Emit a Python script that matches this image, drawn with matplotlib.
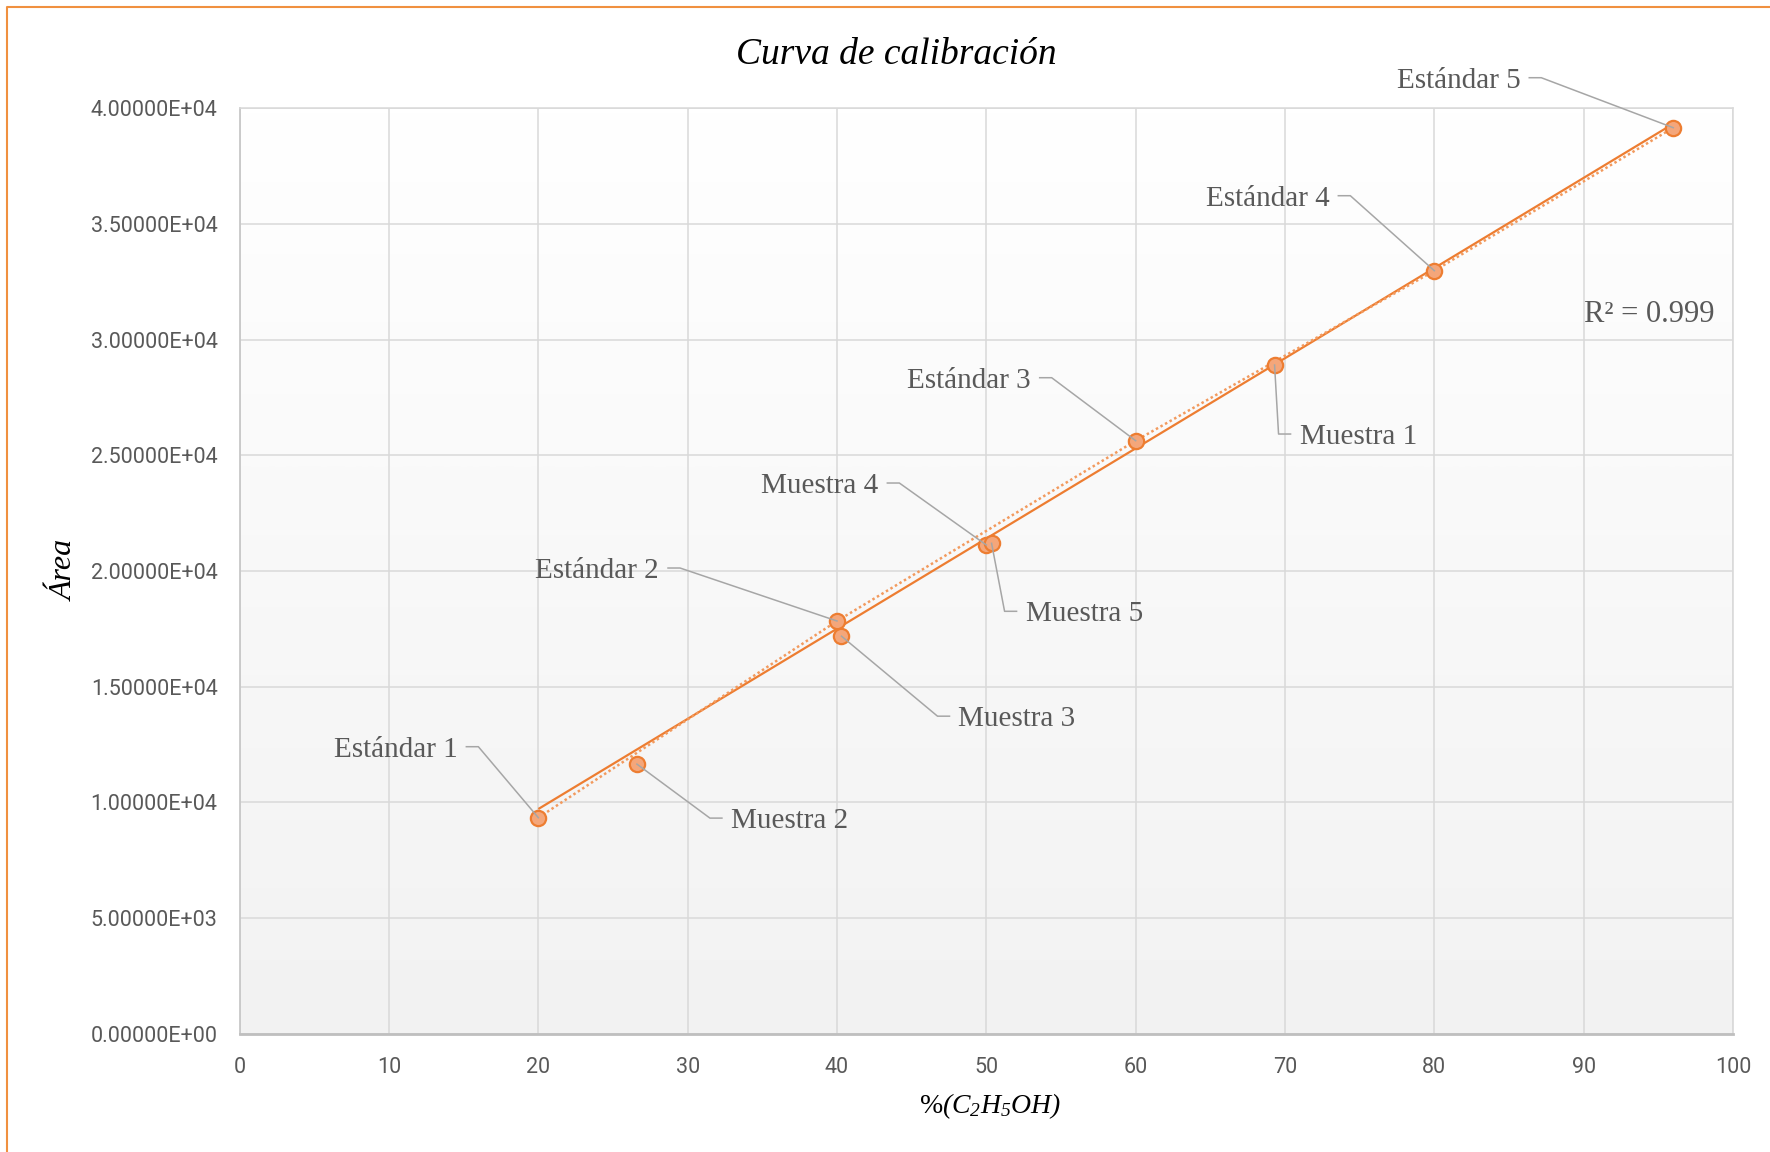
import numpy as np
import matplotlib
matplotlib.use('Agg')
import matplotlib.pyplot as plt
from matplotlib.lines import Line2D
from matplotlib.colors import LinearSegmentedColormap

# standards (calibration points)
std_labels = ['Estándar 1', 'Estándar 2', 'Estándar 3', 'Estándar 4', 'Estándar 5']
std_x = [20, 40, 60, 80, 96]
std_y = [9333, 17836, 25630, 32979, 39161]

# samples read on the curve
mue_labels = ['Muestra 1', 'Muestra 2', 'Muestra 3', 'Muestra 4', 'Muestra 5']
mue_x = [69.3, 26.6, 40.3, 50.0, 50.35]
mue_y = [28902, 11650, 17180, 21121, 21195]

x_ticks = list(range(0, 101, 10))
y_ticks = list(range(0, 40001, 5000))
r2_text = 'R² = 0.999'

# leader elbow offsets in pixels from the point (x right, y down)
leader_px = {
    'Estándar 1': (-60, -72), 'Estándar 2': (-157, -54), 'Estándar 3': (-84, -64),
    'Estándar 4': (-84, -76), 'Estándar 5': (-132, -51),
    'Muestra 1': (4, 68), 'Muestra 2': (73, 53), 'Muestra 3': (96, 79),
    'Muestra 4': (-87, -63), 'Muestra 5': (13, 67),
}

ORANGE = '#ED7D31'
FILL = '#F4A67A'
GRAY_TXT = '#595959'
LEADER = '#A6A6A6'

plt.rcParams['mathtext.fontset'] = 'custom'
plt.rcParams['mathtext.it'] = 'Liberation Serif:italic'
plt.rcParams['mathtext.rm'] = 'Liberation Serif:italic'
plt.rcParams['mathtext.default'] = 'it'

W, H = 1770, 1152
fig = plt.figure(figsize=(W / 100, H / 100), dpi=100)
ax = fig.add_axes([239.7 / W, 1 - 1033.6 / H, (1733 - 239.7) / W, (1033.6 - 108.3) / H])
ax.set_xlim(0, 100)
ax.set_ylim(0, 40000)

# plot area gradient
cmap = LinearSegmentedColormap.from_list('bg', ['#FFFFFF', '#F2F2F2'])
grad = np.linspace(0, 1, 256)[:, None]
ax.imshow(grad, extent=[0, 100, 0, 40000], aspect='auto', cmap=cmap,
          origin='upper', zorder=0, interpolation='bicubic')

ax.set_xticks(x_ticks)
ax.set_yticks(y_ticks)
ax.set_yticklabels(['{:.5E}'.format(v) for v in y_ticks])
ax.grid(True, color='#D9D9D9', linewidth=1.1)
ax.set_axisbelow(True)
ax.tick_params(length=0, labelsize=15.5, labelcolor=GRAY_TXT)
ax.tick_params(axis='y', pad=16)
ax.tick_params(axis='x', pad=17)
for lab in ax.get_xticklabels() + ax.get_yticklabels():
    lab.set_fontfamily('Roboto')
for s in ['top', 'right']:
    ax.spines[s].set_color('#D9D9D9')
    ax.spines[s].set_linewidth(1.1)
ax.spines['left'].set_color('#C8C8C8')
ax.spines['left'].set_linewidth(1.3)
ax.spines['bottom'].set_color('#BFBFBF')
ax.spines['bottom'].set_linewidth(2.0)

# linear trendline of the standards
m, b = np.polyfit(std_x, std_y, 1)
xt = np.array([min(std_x), max(std_x)])
ax.plot(xt, m * xt + b, color=ORANGE, lw=1.6, zorder=2, solid_capstyle='butt')
# standards series line (dotted)
ax.plot(std_x, std_y, color='#F29A5E', lw=1.8, ls=(0, (1, 1.1)), zorder=2)

mk = dict(marker='o', ms=11, mfc=FILL, mec=ORANGE, mew=1.6, ls='none', zorder=3)
ax.plot(std_x, std_y, **mk)
ax.plot(mue_x, mue_y, **mk)

# data labels with leader lines
inv = ax.transData.inverted()
all_pts = list(zip(std_labels, std_x, std_y)) + list(zip(mue_labels, mue_x, mue_y))
for name, x, y in all_pts:
    ex, ey = leader_px[name]
    px, py = ax.transData.transform((x, y))
    side = -1 if ex < 0 else 1
    elbow = (px + ex, py - ey - 1)
    tick_end = (px + ex + side * 12, py - ey - 1)
    pts = inv.transform([(px, py), elbow, tick_end])
    ax.add_line(Line2D(pts[:, 0], pts[:, 1], color=LEADER, lw=1.1, zorder=4, clip_on=False))
    tx, ty = inv.transform((tick_end[0] + side * 9, tick_end[1] - 3))
    ax.text(tx, ty, name, ha='left' if side > 0 else 'right', va='center',
            fontsize=21, color=GRAY_TXT, family='Liberation Serif', zorder=5, clip_on=False)

fig.text(1715 / W, 1 - 314 / H, r2_text, ha='right', va='center', fontsize=22,
         color=GRAY_TXT, family='Liberation Serif')

fig.text(896 / W, 1 - 54.5 / H, 'Curva de calibración', ha='center', va='center',
         fontsize=27, style='italic', family='Liberation Serif', color='black')
fig.text(65 / W, 1 - 570 / H, 'Área', rotation=90, ha='center', va='center',
         fontsize=23, style='italic', family='Liberation Serif', color='black')
fig.text(990 / W, 1 - 1106 / H, '%' + r'$(C_2H_5OH)$', ha='center', va='center',
         fontsize=20, family='Liberation Serif', color='black')

# orange frame of the chart area (left and top edges)
fig.add_artist(Line2D([7 / W, 7 / W, 1], [0, 1 - 7 / H, 1 - 7 / H],
                      transform=fig.transFigure, color='#F0903F', lw=1.5))

fig.savefig('out.png', dpi=100)
